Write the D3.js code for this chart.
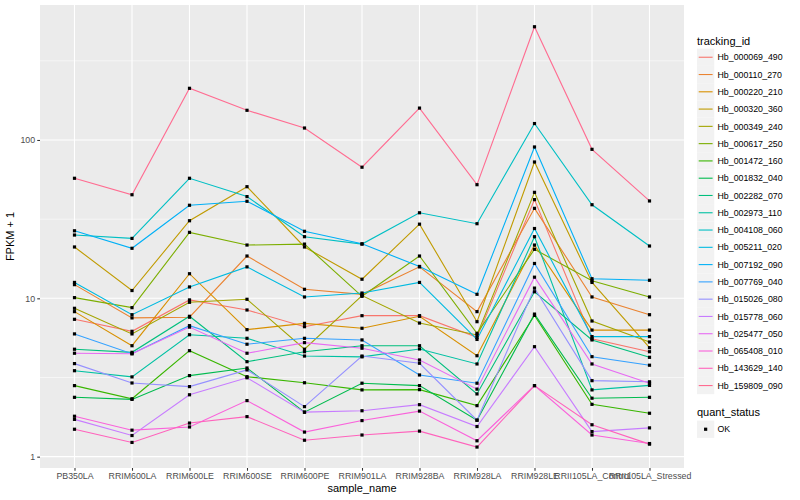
<!DOCTYPE html>
<html>
  <head>
    <meta charset="utf-8">
    <title></title>
    <style>
      body { margin: 0; background: #fff; }
      svg { font-family: "Liberation Sans", Arial, sans-serif; }
    </style>
    <script src="https://cdnjs.cloudflare.com/ajax/libs/d3/7.8.5/d3.min.js"></script>
  </head>
  <body>
    <div id="chart"></div>
    <script>
var samples = ["PB350LA", "RRIM600LA", "RRIM600LE", "RRIM600SE", "RRIM600PE", "RRIM901LA",
  "RRIM928BA", "RRIM928LA", "RRIM928LE", "RRII105LA_Control", "RRII105LA_Stressed"];

var trackingIds = ["Hb_000069_490", "Hb_000110_270", "Hb_000220_210", "Hb_000320_360", "Hb_000349_240",
  "Hb_000617_250", "Hb_001472_160", "Hb_001832_040", "Hb_002282_070", "Hb_002973_110",
  "Hb_004108_060", "Hb_005211_020", "Hb_007192_090", "Hb_007769_040", "Hb_015026_080",
  "Hb_015778_060", "Hb_025477_050", "Hb_065408_010", "Hb_143629_140", "Hb_159809_090"];

// FPKM + 1, one array per gene, in sample order
var hb_000069_490 = [7.37, 6.19, 9.77, 8.44, 6.62, 7.77, 7.77, 5.67, 42.0, 5.56, 4.6];
var hb_000110_270 = [12.2, 7.52, 7.6, 18.5, 11.4, 10.6, 15.8, 8.24, 37.0, 10.2, 7.88];
var hb_000220_210 = [8.24, 5.02, 14.3, 6.34, 6.95, 6.47, 7.7, 4.34, 21.7, 6.3, 6.3];
var hb_000320_360 = [21.1, 11.2, 30.9, 50.7, 21.1, 13.2, 29.4, 7.12, 72.6, 12.6, 4.88];
var hb_000349_240 = [8.65, 5.96, 9.44, 9.86, 4.77, 10.4, 6.98, 5.87, 46.7, 7.19, 5.3];
var hb_000617_250 = [10.1, 8.73, 26.1, 21.7, 22.0, 10.3, 18.5, 6.01, 20.4, 12.9, 10.2];
var hb_001472_160 = [2.81, 2.32, 4.67, 3.20, 2.93, 2.64, 2.65, 2.10, 7.8, 2.14, 1.88];
var hb_001832_040 = [2.37, 2.30, 3.25, 3.63, 1.91, 2.91, 2.81, 1.70, 7.95, 2.34, 2.37];
var hb_002282_070 = [4.77, 4.56, 7.7, 3.98, 4.6, 5.02, 5.02, 2.49, 11.0, 5.46, 4.24];
var hb_002973_110 = [3.49, 3.19, 5.89, 5.59, 4.32, 4.27, 4.79, 3.85, 24.5, 2.64, 2.82];
var hb_004108_060 = [25.1, 23.9, 57.3, 43.9, 24.5, 22.0, 34.7, 29.6, 127, 39.0, 21.4];
var hb_005211_020 = [12.6, 7.88, 11.8, 15.8, 10.2, 10.8, 12.6, 5.5, 27.6, 5.73, 5.73];
var hb_007192_090 = [26.7, 20.7, 38.7, 41.0, 26.5, 22.1, 15.9, 10.6, 90.3, 13.3, 13.0];
var hb_007769_040 = [5.96, 4.47, 6.72, 5.13, 5.59, 5.46, 3.28, 2.91, 16.6, 4.28, 3.78];
var hb_015026_080 = [3.87, 2.92, 2.77, 3.53, 2.07, 4.32, 3.89, 1.70, 11.6, 3.02, 2.97];
var hb_015778_060 = [1.72, 1.36, 2.46, 3.15, 1.91, 1.95, 2.13, 1.55, 4.95, 1.44, 1.52];
var hb_025477_050 = [4.50, 4.47, 6.58, 4.50, 5.25, 4.84, 4.08, 2.67, 13.6, 3.85, 2.91];
var hb_065408_010 = [1.80, 1.47, 1.54, 2.26, 1.43, 1.69, 1.94, 1.26, 2.81, 1.37, 1.21];
var hb_143629_140 = [1.49, 1.23, 1.63, 1.79, 1.27, 1.37, 1.45, 1.15, 2.81, 1.59, 1.20];
var hb_159809_090 = [57.3, 45.1, 212, 154, 119, 67.3, 159, 52.2, 519, 87.3, 41.2];

var seriesValues = [hb_000069_490, hb_000110_270, hb_000220_210, hb_000320_360, hb_000349_240,
  hb_000617_250, hb_001472_160, hb_001832_040, hb_002282_070, hb_002973_110,
  hb_004108_060, hb_005211_020, hb_007192_090, hb_007769_040, hb_015026_080,
  hb_015778_060, hb_025477_050, hb_065408_010, hb_143629_140, hb_159809_090];

var majorTicks = [1, 10, 100];
var minorTicks = [3.162, 31.62, 316.2];
var quantStatus = ["OK"];

// ggplot hue palette, 20 levels
var huePalette = ["#F8766D", "#EA8331", "#D89000", "#C09B00", "#A3A500", "#7CAE00", "#39B600",
  "#00BB4E", "#00BF7D", "#00C1A3", "#00BFC4", "#00BAE0", "#00B0F6", "#35A2FF", "#9590FF",
  "#C77CFF", "#E76BF3", "#FA62DB", "#FF62BC", "#FF6C91"];

var W = 800, H = 500;
var panel = { left: 40, right: 684, top: 5, bottom: 468 };

var svg = d3.select("#chart").append("svg").attr("width", W).attr("height", H);

var x = d3.scalePoint().domain(samples).range([panel.left, panel.right]).padding(0.6);
var y = d3.scaleLog().domain([0.848, 712]).range([panel.bottom, panel.top]);
var color = d3.scaleOrdinal().domain(trackingIds).range(huePalette);

svg.append("rect")
  .attr("x", panel.left).attr("y", panel.top)
  .attr("width", panel.right - panel.left).attr("height", panel.bottom - panel.top)
  .attr("fill", "#EBEBEB");

var grid = svg.append("g");
grid.selectAll(".minor").data(minorTicks).enter().append("line")
  .attr("x1", panel.left).attr("x2", panel.right)
  .attr("y1", function(d){ return y(d); }).attr("y2", function(d){ return y(d); })
  .attr("stroke", "#fff").attr("stroke-width", 0.55);
grid.selectAll(".major").data(majorTicks).enter().append("line")
  .attr("x1", panel.left).attr("x2", panel.right)
  .attr("y1", function(d){ return y(d); }).attr("y2", function(d){ return y(d); })
  .attr("stroke", "#fff").attr("stroke-width", 1.1);
grid.selectAll(".vert").data(samples).enter().append("line")
  .attr("x1", function(d){ return x(d); }).attr("x2", function(d){ return x(d); })
  .attr("y1", panel.top).attr("y2", panel.bottom)
  .attr("stroke", "#fff").attr("stroke-width", 1.1);

var rows = trackingIds.map(function(id, i){
  return { id: id, values: seriesValues[i].map(function(v, j){ return { s: samples[j], v: v }; }) };
});

var line = d3.line().x(function(d){ return x(d.s); }).y(function(d){ return y(d.v); });

svg.append("g").selectAll("path").data(rows).enter().append("path")
  .attr("d", function(r){ return line(r.values); })
  .attr("fill", "none")
  .attr("stroke", function(r){ return color(r.id); })
  .attr("stroke-width", 1.1);

var pts = [];
rows.forEach(function(r){ r.values.forEach(function(p){ pts.push(p); }); });
svg.append("g").selectAll("rect").data(pts).enter().append("rect")
  .attr("x", function(d){ return x(d.s) - 1.6; })
  .attr("y", function(d){ return y(d.v) - 1.6; })
  .attr("width", 3.2).attr("height", 3.2)
  .attr("fill", "#000");

// axes
var yAxis = svg.append("g").attr("transform", "translate(" + panel.left + ",0)")
  .call(d3.axisLeft(y).tickValues(majorTicks).tickFormat(d3.format("d")).tickSize(2.75).tickPadding(2.2));
var xAxis = svg.append("g").attr("transform", "translate(0," + panel.bottom + ")")
  .call(d3.axisBottom(x).tickSize(2.75).tickPadding(2.2));
[yAxis, xAxis].forEach(function(a){
  a.select(".domain").remove();
  a.selectAll(".tick line").attr("stroke", "#333333").attr("stroke-width", 1.07);
  a.selectAll(".tick text").attr("fill", "#4D4D4D").style("font-size", "8.8px")
    .style("font-family", "'Liberation Sans', Arial, sans-serif");
});

svg.append("text")
  .attr("x", (panel.left + panel.right) / 2).attr("y", 492)
  .attr("text-anchor", "middle").style("font-size", "11px").text("sample_name");
svg.append("text")
  .attr("transform", "translate(14," + ((panel.top + panel.bottom) / 2) + ") rotate(-90)")
  .attr("text-anchor", "middle").style("font-size", "11px").text("FPKM + 1");

// legends
var lg = svg.append("g").attr("transform", "translate(697,0)");
lg.append("text").attr("x", 0).attr("y", 44.5).style("font-size", "11px").text("tracking_id");
var item = lg.selectAll(".item").data(trackingIds).enter().append("g")
  .attr("transform", function(d, i){ return "translate(0," + (48.6 + i * 17.28) + ")"; });
item.append("rect").attr("width", 17.28).attr("height", 17.28).attr("fill", "#F2F2F2");
item.append("line").attr("x1", 1.7).attr("x2", 15.6).attr("y1", 8.64).attr("y2", 8.64)
  .attr("stroke", function(d){ return color(d); }).attr("stroke-width", 1.1);
item.append("text").attr("x", 20.5).attr("y", 11.8).style("font-size", "8.8px").text(function(d){ return d; });

lg.append("text").attr("x", 0).attr("y", 416).style("font-size", "11px").text("quant_status");
var qs = lg.selectAll(".qs").data(quantStatus).enter().append("g")
  .attr("transform", function(d, i){ return "translate(0," + (420.6 + i * 17.28) + ")"; });
qs.append("rect").attr("width", 17.28).attr("height", 17.28).attr("fill", "#F2F2F2");
qs.append("rect").attr("x", 7.04).attr("y", 7.04).attr("width", 3.2).attr("height", 3.2).attr("fill", "#000");
qs.append("text").attr("x", 20.5).attr("y", 11.8).style("font-size", "8.8px").text(function(d){ return d; });
    </script>
  </body>
</html>
